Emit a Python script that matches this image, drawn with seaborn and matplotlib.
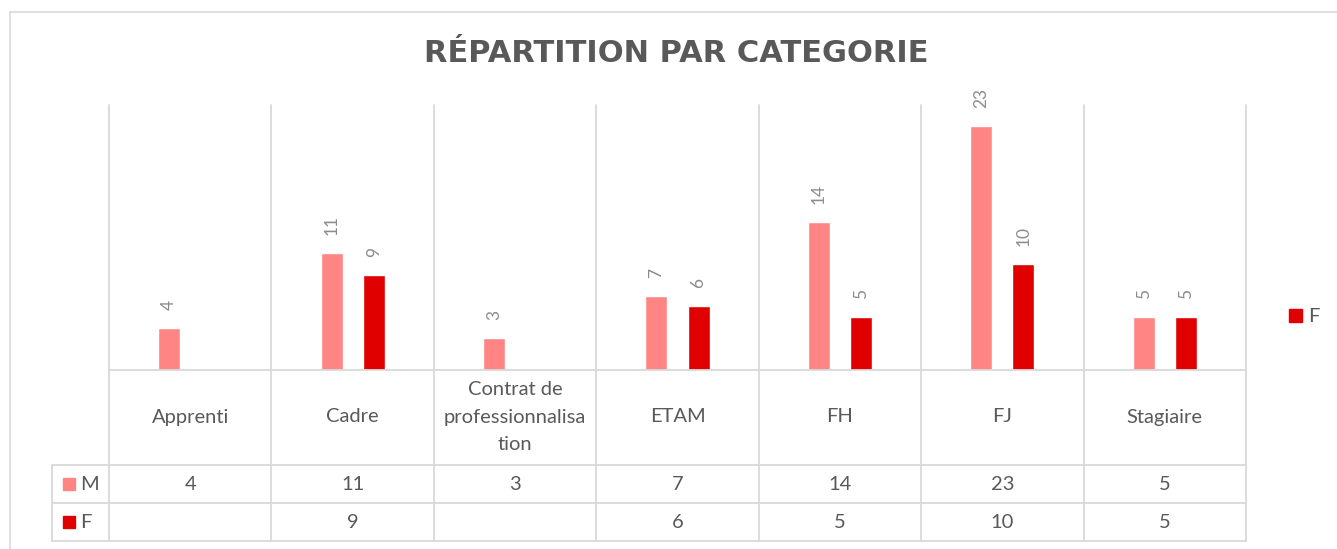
import numpy as np
import pandas as pd
import seaborn as sns
import matplotlib.pyplot as plt
from matplotlib.patches import Rectangle
from matplotlib.transforms import blended_transform_factory

# Données du graphique
categories = ["Apprenti", "Cadre", "Contrat de professionnalisation", "ETAM", "FH", "FJ", "Stagiaire"]
tick_labels = ["Apprenti", "Cadre", "Contrat de\nprofessionnalisa\ntion", "ETAM", "FH", "FJ", "Stagiaire"]
series = ["M", "F"]
m_values = [4, 11, 3, 7, 14, 23, 5]
f_values = [np.nan, 9, np.nan, 6, 5, 10, 5]
colors = {"M": "#FF8585", "F": "#E00000"}

df = pd.DataFrame({
    "categorie": categories * 2,
    "sexe": ["M"] * len(categories) + ["F"] * len(categories),
    "effectif": m_values + f_values,
}).dropna()

sns.set_theme(style="white")
plt.rcParams["font.family"] = ["Lato", "DejaVu Sans"]

W, H = 1337, 549
fig = plt.figure(figsize=(W / 100, H / 100), dpi=100)

def fx(p):
    return p / W

def fy(p):
    return 1 - p / H

# cadre du graphique
fig.patches.append(Rectangle((fx(10), fy(560)), fx(1400), fy(12) - fy(560),
                             transform=fig.transFigure, fill=False,
                             edgecolor="#D9D9D9", linewidth=1.2))

ax = fig.add_axes([fx(109), fy(370), fx(1246 - 109), fy(105) - fy(370)])
sns.barplot(data=df, x="categorie", y="effectif", hue="sexe", order=categories,
            hue_order=series, palette=colors, width=0.52, gap=0.48, saturation=1,
            errorbar=None, legend=False, ax=ax)

ax.set_xlim(-0.5, len(categories) - 0.5)
ax.set_ylim(0, 25)
for s in ax.spines.values():
    s.set_visible(False)
ax.set_xticks([])
ax.set_yticks([])
ax.set_xlabel("")
ax.set_ylabel("")

for c in ax.containers:
    ax.bar_label(c, fmt="%g", rotation=90, padding=13, color="#8C8C8C", fontsize=12.5)

# lignes verticales et tableau de données
grid = "#D9D9D9"
tr = blended_transform_factory(ax.transData, fig.transFigure)
bounds = np.arange(len(categories) + 1) - 0.5
for b in bounds:
    ax.plot([b, b], [fy(105), fy(541)], transform=tr, color=grid, lw=1.3, clip_on=False)
for row in [370, 465, 503, 541]:
    if row != 370:
        fig.add_artist(plt.Line2D([fx(52), fx(109)], [fy(row), fy(row)], color=grid, lw=1.3))
    ax.plot([-0.5, len(categories) - 0.5], [fy(row), fy(row)], transform=tr,
            color=grid, lw=1.3, clip_on=False)
fig.add_artist(plt.Line2D([fx(52), fx(52)], [fy(465), fy(541)], color=grid, lw=1.3))

txt = "#595959"
fs = 14.5
for i, lab in enumerate(tick_labels):
    ax.text(i, fy(417), lab, transform=tr, ha="center", va="center",
            fontsize=fs, color=txt, linespacing=1.75)
    ax.text(i, fy(485), "%g" % m_values[i], transform=tr, ha="center", va="center",
            fontsize=fs, color=txt)
    if not np.isnan(f_values[i]):
        ax.text(i, fy(523), "%g" % f_values[i], transform=tr, ha="center", va="center",
                fontsize=fs, color=txt)

for s, yc in zip(series, [484, 522]):
    fig.patches.append(Rectangle((fx(63), fy(yc + 6)), fx(12), fy(yc - 6) - fy(yc + 6),
                                 transform=fig.transFigure, color=colors[s]))
    fig.text(fx(80), fy(yc + 1), s, ha="left", va="center", fontsize=fs, color=txt)

# légende (seulement F visible)
fig.patches.append(Rectangle((fx(1289), fy(322)), fx(13), fy(309) - fy(322),
                             transform=fig.transFigure, color=colors["F"]))
fig.text(fx(1308), fy(316), "F", ha="left", va="center", fontsize=fs, color=txt)

fig.text(fx(676), fy(54), "RÉPARTITION PAR CATEGORIE", ha="center", va="center",
         fontsize=22, fontweight="bold", color=txt, family=["DejaVu Sans"])

fig.savefig("out.png", dpi=100)
